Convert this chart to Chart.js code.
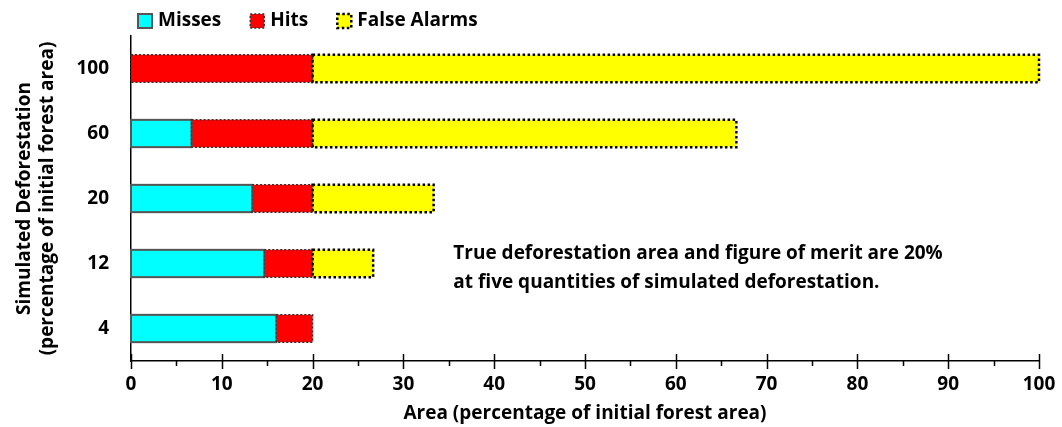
<!DOCTYPE html>
<html>
<head>
<meta charset="utf-8">
<script src="https://cdn.jsdelivr.net/npm/chart.js@4.4.1/dist/chart.umd.min.js"></script>
<style>
  html, body { margin: 0; padding: 0; background: #ffffff; }
  #wrap { width: 1062px; height: 427px; }
</style>
</head>
<body>
<div id="wrap"><canvas id="chart" width="1062" height="427"></canvas></div>
<script>
// 1. Data
const categories = ['100', '60', '20', '12', '4'];
const misses = [0, 6.67, 13.33, 14.67, 16];
const hits = [20, 13.33, 6.67, 5.33, 4];
const falseAlarms = [80, 46.67, 13.33, 6.67, 0];
const xTicks = [0, 10, 20, 30, 40, 50, 60, 70, 80, 90, 100];
const noteLines = [
    'True deforestation area and figure of merit are 20%',
    'at five quantities of simulated deforestation.'
];

// 2. Look
const FONT = '"Open Sans", "Noto Sans", sans-serif';
const series = [
    { label: 'Misses', data: misses, fill: '#00ffff', stroke: '#555555', width: 2, dash: [] },
    { label: 'Hits', data: hits, fill: '#ff0000', stroke: '#333333', width: 1.5, dash: [2, 2] },
    { label: 'False Alarms', data: falseAlarms, fill: '#ffff00', stroke: '#000000', width: 2.5, dash: [2.5, 2.5] }
];

// 3. Plugins: dashed bar outlines, crossing ticks, legend and note
const outlinePlugin = {
    id: 'outlines',
    afterDatasetsDraw(chart) {
        const ctx = chart.ctx;
        ctx.save();
        chart.data.datasets.forEach((ds, i) => {
            const meta = chart.getDatasetMeta(i);
            meta.data.forEach(bar => {
                const p = bar.getProps(['x', 'y', 'base', 'height'], true);
                const left = Math.min(p.x, p.base), right = Math.max(p.x, p.base);
                if (right - left < 0.5) return;
                ctx.lineWidth = ds.outlineWidth;
                ctx.strokeStyle = ds.outlineColor;
                ctx.setLineDash(ds.outlineDash);
                ctx.strokeRect(left, p.y - p.height / 2, right - left, p.height);
            });
        });
        ctx.restore();
    }
};

const ticksPlugin = {
    id: 'crossTicks',
    afterDraw(chart) {
        const ctx = chart.ctx;
        const xs = chart.scales.x;
        const y0 = chart.chartArea.bottom;
        ctx.save();
        ctx.strokeStyle = '#000';
        ctx.lineWidth = 1.5;
        for (let v = xs.min; v <= xs.max; v += 5) {
            const px = Math.round(xs.getPixelForValue(v)) + 0.5;
            const major = v % 10 === 0;
            ctx.beginPath();
            ctx.moveTo(px, major ? y0 - 7 : y0);
            ctx.lineTo(px, major ? y0 + 8 : y0 + 5);
            ctx.stroke();
        }
        ctx.restore();
    }
};

const legendPlugin = {
    id: 'topLegend',
    afterDraw(chart) {
        const ctx = chart.ctx;
        let x = 138;
        const yc = 21;
        ctx.save();
        ctx.font = 'bold 19px ' + FONT;
        ctx.textBaseline = 'middle';
        chart.data.datasets.forEach(ds => {
            ctx.fillStyle = ds.backgroundColor;
            ctx.fillRect(x, yc - 7, 14, 14);
            ctx.lineWidth = ds.outlineWidth;
            ctx.strokeStyle = ds.outlineColor;
            ctx.setLineDash(ds.outlineDash);
            ctx.strokeRect(x, yc - 7, 14, 14);
            ctx.setLineDash([]);
            ctx.fillStyle = '#000';
            ctx.fillText(ds.label, x + 20, yc);
            x += 20 + ctx.measureText(ds.label).width + 29;
        });
        ctx.restore();
    }
};

const notePlugin = {
    id: 'note',
    afterDraw(chart) {
        const ctx = chart.ctx;
        const xs = chart.scales.x, ys = chart.scales.y;
        const left = xs.getPixelForValue(35.5);
        const mid = ys.getPixelForValue(3);
        ctx.save();
        ctx.font = 'bold 19px ' + FONT;
        ctx.fillStyle = '#000';
        ctx.textBaseline = 'middle';
        noteLines.forEach((line, i) => ctx.fillText(line, left, mid - 10 + i * 29));
        ctx.restore();
    }
};

// 4. Chart
function initChart() {
    const ctx = document.getElementById('chart').getContext('2d');
    new Chart(ctx, {
        type: 'bar',
        data: {
            labels: categories,
            datasets: series.map(s => ({
                label: s.label,
                data: s.data,
                backgroundColor: s.fill,
                borderWidth: 0,
                outlineColor: s.stroke,
                outlineWidth: s.width,
                outlineDash: s.dash,
                categoryPercentage: 1,
                barPercentage: 0.42
            }))
        },
        options: {
            indexAxis: 'y',
            responsive: false,
            animation: false,
            layout: { padding: { top: 36, right: 23, left: 0, bottom: 0 } },
            plugins: { legend: { display: false }, tooltip: { enabled: false } },
            scales: {
                x: {
                    stacked: true,
                    min: 0,
                    max: 100,
                    afterBuildTicks: axis => { axis.ticks = xTicks.map(v => ({ value: v })); },
                    grid: { display: false, drawTicks: false },
                    border: { display: true, color: '#000', width: 1.5 },
                    ticks: { color: '#000', font: { family: FONT, size: 19, weight: 'bold' }, padding: 12, maxRotation: 0, autoSkip: false },
                    title: { display: true, text: 'Area (percentage of initial forest area)', color: '#000', font: { family: FONT, size: 19, weight: 'bold', lineHeight: 1.2 }, padding: { top: 0, bottom: 2 } },
                    afterFit: axis => { axis.height = 66; axis.paddingLeft = 0; axis.paddingRight = 0; }
                },
                y: {
                    stacked: true,
                    grid: { display: false, drawTicks: false },
                    border: { display: true, color: '#000', width: 1.5 },
                    ticks: { color: '#000', font: { family: FONT, size: 19, weight: 'bold' }, padding: 22 },
                    title: { display: true, text: ['Simulated Deforestation', '(percentage of initial forest area)'], color: '#000', font: { family: FONT, size: 19, weight: 'bold', lineHeight: 1.2 }, padding: { top: 13, bottom: 0 } },
                    afterFit: axis => { axis.width = 131; }
                }
            }
        },
        plugins: [outlinePlugin, ticksPlugin, legendPlugin, notePlugin]
    });
}

window.onload = initChart;
</script>
</body>
</html>
